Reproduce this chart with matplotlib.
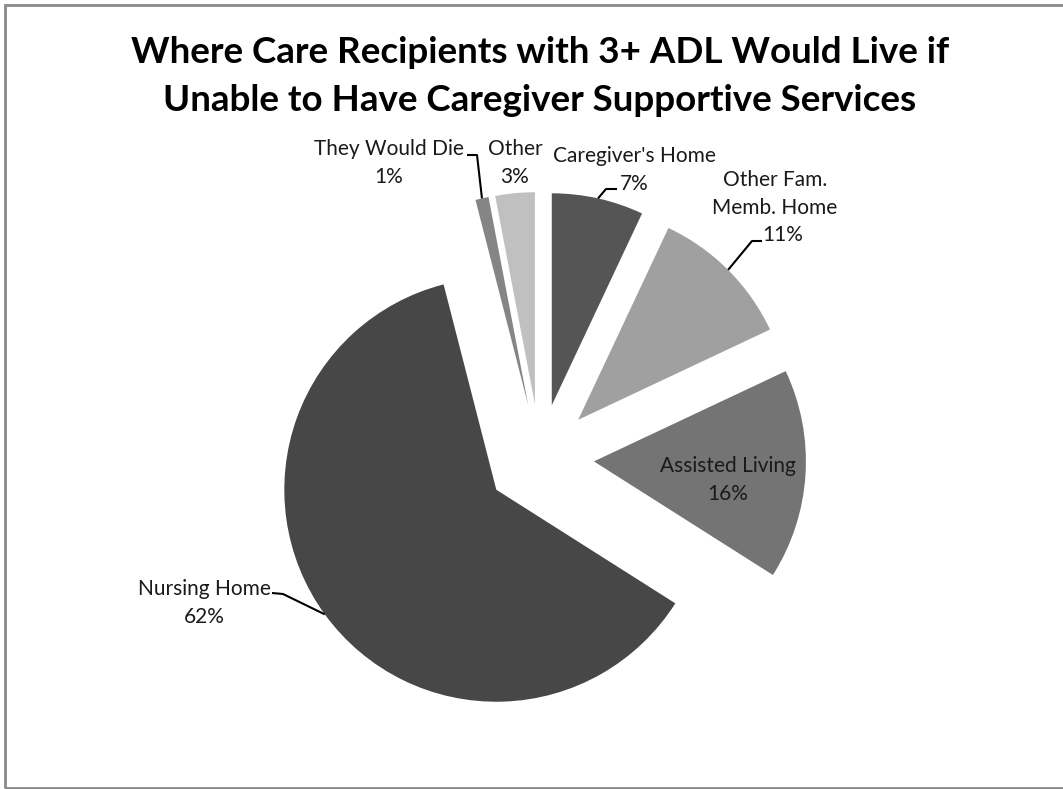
import numpy as np
import matplotlib.pyplot as plt
from matplotlib.patches import Rectangle

# Data
labels = ["Caregiver's Home", "Other Fam.\nMemb. Home", "Assisted Living",
          "Nursing Home", "They Would Die", "Other"]
shares = [7, 11, 16, 62, 1, 3]
colors = ["#555555", "#a0a0a0", "#747474", "#474747", "#858585", "#c0c0c0"]

W, H = 1063, 789
plt.rcParams['font.family'] = ['Lato', 'DejaVu Sans']

fig = plt.figure(figsize=(W / 100, H / 100), dpi=100)
ax = fig.add_axes([0, 0, 1, 1])

# pie centre/radius in pixel units (y measured from bottom)
cx, cy, R = 540, H - 458, 212
wedges, _ = ax.pie(shares, colors=colors, startangle=90, counterclock=False,
                   center=(cx, cy), radius=R, explode=[54] * len(shares),
                   wedgeprops=dict(linewidth=0))
ax.set_xlim(0, W)
ax.set_ylim(0, H)
ax.set_aspect('equal')
ax.axis('off')

# frame around the chart area
ax.add_patch(Rectangle((5, 1), W + 10, H - 6, fill=False, edgecolor='#8a8a8a',
                       linewidth=2, clip_on=False))

ax.text(540, H - 52, "Where Care Recipients with 3+ ADL Would Live if",
        ha='center', va='center', fontsize=26.5, fontweight='bold')
ax.text(540, H - 100, "Unable to Have Caregiver Supportive Services",
        ha='center', va='center', fontsize=26.5, fontweight='bold')


def arc_point(w, frac=0.5):
    """point on a wedge's outer arc, frac 0..1 along theta1->theta2"""
    ang = np.deg2rad(w.theta1 + frac * (w.theta2 - w.theta1))
    x0, y0 = w.center
    return x0 + w.r * np.cos(ang), y0 + w.r * np.sin(ang)


def label_text(txt, x, y, **kw):
    ax.text(x, H - y, txt, ha='center', va='center', fontsize=15,
            linespacing=1.45, color='#1a1a1a', **kw)


def leader(w, p_end, p_knee):
    ax_pt = arc_point(w)
    xs = [p_end[0], p_knee[0], ax_pt[0]]
    ys = [H - p_end[1], H - p_knee[1], ax_pt[1]]
    ax.plot(xs, ys, color='black', linewidth=1.5, solid_capstyle='butt')


def pct(i):
    return f"{shares[i]}%"


# Caregiver's Home
label_text(f"{labels[0]}\n{pct(0)}", 634, 170)
leader(wedges[0], (617, 189), (606, 189))

# Other Fam. Memb. Home (two text lines + offset percentage)
label_text(labels[1], 775, 194)
label_text(pct(1), 783, 235)
leader(wedges[1], (762, 241), (752, 241))

# Assisted Living, inside the slice
label_text(f"{labels[2]}\n{pct(2)}", 728, 480)

# Nursing Home
label_text(f"{labels[3]}\n{pct(3)}", 204, 603)
leader(wedges[3], (272, 593), (283, 594))

# They Would Die
label_text(f"{labels[4]}\n{pct(4)}", 389, 163)
leader(wedges[4], (467, 155), (477, 155))

# Other
label_text(f"{labels[5]}\n{pct(5)}", 515, 163)

fig.savefig("out.png", dpi=100)
